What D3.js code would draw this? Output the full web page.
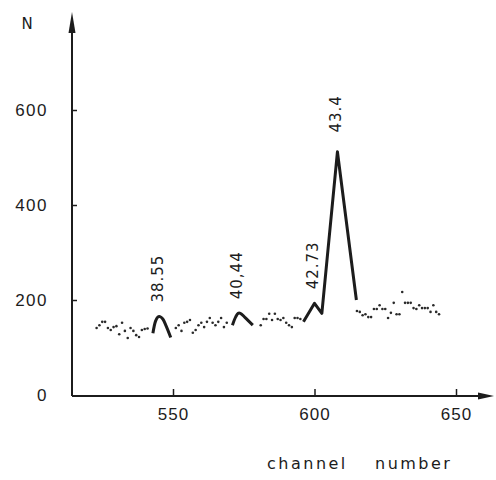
<!DOCTYPE html>
<html>
<head>
<meta charset="utf-8">
<script src="https://cdn.jsdelivr.net/npm/d3@7"></script>
<style>
  html, body { margin: 0; padding: 0; background: #fff; }
  svg { display: block; font-family: "DejaVu Sans", sans-serif; }
</style>
</head>
<body>
<div id="chart"></div>
<script>
// scattered counts per channel (dotted background)
const dotChannels = [
  523, 524, 525, 526, 527, 528, 529, 530, 531, 532, 533, 534, 535, 536, 537, 538, 539, 540, 541,
  551, 552, 553, 554, 555, 556, 557, 558, 559, 560, 561, 562, 563, 564, 565, 566, 567, 568, 569,
  581, 582, 583, 584, 585, 586, 587, 588, 589, 590, 591, 592, 593, 594, 595,
  615, 616, 617, 618, 619, 620, 621, 622, 623, 624, 625, 626, 627, 628, 629,
  630, 631, 632, 633, 634, 635, 636, 637, 638, 639, 640, 641, 642, 643, 644
];
const dotCounts = [
  141, 147, 154, 154, 141, 137, 143, 145, 128, 152, 135, 120, 141, 135, 126, 122, 137, 139, 140,
  141, 147, 135, 152, 154, 158, 131, 137, 147, 152, 143, 154, 162, 152, 147, 154, 162, 143, 152,
  147, 160, 160, 171, 158, 171, 160, 158, 162, 152, 147, 143, 162, 162, 160,
  177, 175, 168, 170, 164, 164, 181, 181, 189, 181, 181, 162, 173, 194, 170,
  170, 217, 194, 194, 194, 183, 181, 189, 183, 183, 183, 175, 189, 175, 170
];

// drawn peaks (solid lines)
const peak1Channels = [542.9, 543.8, 544.6, 545.4, 546.4, 547.6, 549.2];
const peak1Counts   = [130, 155, 164, 165, 160, 145, 121];
const peak2Channels = [571.0, 572.2, 573.0, 573.8, 575.5, 578.2];
const peak2Counts   = [147, 165, 172, 172, 163, 147];
const peak3Channels = [596.1, 600.0, 602.6, 608.1, 614.8];
const peak3Counts   = [154, 193, 172, 512, 200];

// peak annotations: label, channel and count of the peak top
const peakLabels   = ["38.55", "40,44", "42.73", "43.4"];
const peakChannels = [545.2, 573.3, 600.0, 608.1];
const peakCounts   = [165, 172, 193, 512];

const xTicks = [550, 600, 650];
const yTicks = [0, 200, 400, 600];

const width = 496, height = 480;
const ink = '#1c1c1c';

const x = d3.scaleLinear().domain([550, 650]).range([173, 456]);
const y = d3.scaleLinear().domain([0, 600]).range([395, 110]);
const x0 = 72, y0 = 396;

const svg = d3.select('#chart').append('svg')
  .attr('width', width)
  .attr('height', height)
  .style('background', '#fff');

// axes lines with arrow heads
svg.append('path')
  .attr('d', `M${x0},${y0} L${x0},26 M${x0},${y0} L484,${y0}`)
  .attr('fill', 'none')
  .attr('stroke', ink)
  .attr('stroke-width', 2);
svg.append('path')
  .attr('d', `M${x0},12 L${x0 - 3.5},33 L${x0 + 3.5},33 Z`)
  .attr('fill', ink);
svg.append('path')
  .attr('d', `M494,${y0} L478,${y0 - 3.5} L478,${y0 + 3.5} Z`)
  .attr('fill', ink);

// x axis ticks + labels
const xAxis = svg.append('g')
  .attr('transform', `translate(0,${y0})`)
  .call(d3.axisBottom(x).tickValues(xTicks).tickSizeInner(-7).tickSizeOuter(0).tickPadding(12));
xAxis.select('.domain').remove();
xAxis.selectAll('line').attr('stroke', ink).attr('stroke-width', 1.5);
xAxis.selectAll('text')
  .attr('fill', ink)
  .style('font-size', '17px')
  .style('letter-spacing', '1px');

// y axis ticks + labels
const yAxis = svg.append('g')
  .attr('transform', `translate(${x0},0)`)
  .call(d3.axisLeft(y).tickValues(yTicks).tickSizeInner(-5).tickSizeOuter(0).tickPadding(24));
yAxis.select('.domain').remove();
yAxis.selectAll('line').attr('stroke', ink).attr('stroke-width', 1.5)
  .filter(d => d === 0).remove();
yAxis.selectAll('text')
  .attr('fill', ink)
  .style('font-size', '17px')
  .style('letter-spacing', '1.5px');

svg.append('text')
  .attr('x', 27)
  .attr('y', 29)
  .attr('text-anchor', 'middle')
  .attr('fill', ink)
  .style('font-size', '15px')
  .text('N');

svg.append('text')
  .attr('x', 267)
  .attr('y', 469)
  .attr('fill', ink)
  .style('font-size', '16px')
  .style('letter-spacing', '2.5px')
  .text('channel');
svg.append('text')
  .attr('x', 375)
  .attr('y', 469)
  .attr('fill', ink)
  .style('font-size', '16px')
  .style('letter-spacing', '2.5px')
  .text('number');

// dotted data
svg.append('g').selectAll('circle')
  .data(dotChannels.map((c, i) => ({ c, n: dotCounts[i] })))
  .enter()
  .append('circle')
  .attr('cx', d => x(d.c))
  .attr('cy', d => y(d.n))
  .attr('r', 1.3)
  .attr('fill', '#2a2a2a');

// peaks
const smooth = d3.line().x(d => x(d[0])).y(d => y(d[1])).curve(d3.curveCatmullRom);
const straight = d3.line().x(d => x(d[0])).y(d => y(d[1]));
const zip = (a, b) => a.map((v, i) => [v, b[i]]);

svg.append('path')
  .attr('d', smooth(zip(peak1Channels, peak1Counts)))
  .attr('fill', 'none').attr('stroke', ink).attr('stroke-width', 3);
svg.append('path')
  .attr('d', smooth(zip(peak2Channels, peak2Counts)))
  .attr('fill', 'none').attr('stroke', ink).attr('stroke-width', 3);
svg.append('path')
  .attr('d', straight(zip(peak3Channels, peak3Counts)))
  .attr('fill', 'none').attr('stroke', ink).attr('stroke-width', 3)
  .attr('stroke-linejoin', 'round');

// rotated peak labels
svg.append('g').selectAll('text')
  .data(peakLabels.map((t, i) => ({ t, c: peakChannels[i], n: peakCounts[i] })))
  .enter()
  .append('text')
  .attr('transform', d => `translate(${x(d.c) - 2},${y(d.n) - 38}) rotate(-90)`)
  .attr('text-anchor', 'middle')
  .attr('dy', '0.36em')
  .attr('fill', ink)
  .style('font-size', '15px')
  .style('letter-spacing', '1px')
  .text(d => d.t);
</script>
</body>
</html>
